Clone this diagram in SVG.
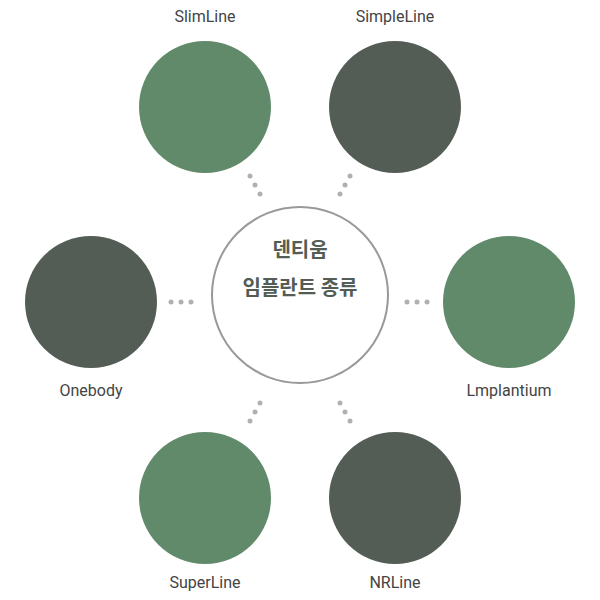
<svg xmlns="http://www.w3.org/2000/svg" width="600" height="600" viewBox="0 0 600 600">
<style>
.g{fill:#608a6a}.d{fill:#535d55}.dot{fill:#b0b0b0}
.lbl{font-family:Roboto,"Liberation Sans",sans-serif;font-size:16px;fill:#444;text-anchor:middle}
.ct{font-family:"Noto Sans CJK KR",sans-serif;font-size:20px;font-weight:bold;fill:#535d55;text-anchor:middle}
</style>
<rect width="600" height="600" fill="#fff"/>
<g id="connectors">
<circle class="dot" cx="250" cy="176" r="2.5"/><circle class="dot" cx="255" cy="185" r="2.5"/><circle class="dot" cx="260" cy="194" r="2.5"/>
<circle class="dot" cx="350" cy="176" r="2.5"/><circle class="dot" cx="345" cy="185" r="2.5"/><circle class="dot" cx="340" cy="194" r="2.5"/>
<circle class="dot" cx="171" cy="302" r="2.5"/><circle class="dot" cx="181" cy="302" r="2.5"/><circle class="dot" cx="191" cy="302" r="2.5"/>
<circle class="dot" cx="407" cy="302" r="2.5"/><circle class="dot" cx="417" cy="302" r="2.5"/><circle class="dot" cx="427" cy="302" r="2.5"/>
<circle class="dot" cx="260" cy="403" r="2.5"/><circle class="dot" cx="255" cy="412" r="2.5"/><circle class="dot" cx="250" cy="421" r="2.5"/>
<circle class="dot" cx="340" cy="403" r="2.5"/><circle class="dot" cx="345" cy="412" r="2.5"/><circle class="dot" cx="350" cy="421" r="2.5"/>
</g>
<g id="center"><circle cx="300" cy="295" r="88" fill="#fff" stroke="#999" stroke-width="2"/>
<text class="ct" x="300" y="257">덴티움</text><text class="ct" x="300" y="295">임플란트 종류</text></g>
<g id="slimline"><circle class="g" cx="205" cy="107" r="66"/><text class="lbl" x="205" y="22">SlimLine</text></g>
<g id="simpleline"><circle class="d" cx="395" cy="107" r="66"/><text class="lbl" x="395" y="22">SimpleLine</text></g>
<g id="onebody"><circle class="d" cx="91" cy="302" r="66"/><text class="lbl" x="91" y="396">Onebody</text></g>
<g id="lmplantium"><circle class="g" cx="509" cy="302" r="66"/><text class="lbl" x="509" y="396">Lmplantium</text></g>
<g id="superline"><circle class="g" cx="205" cy="498" r="66"/><text class="lbl" x="205" y="588">SuperLine</text></g>
<g id="nrline"><circle class="d" cx="395" cy="498" r="66"/><text class="lbl" x="395" y="588">NRLine</text></g>
</svg>
